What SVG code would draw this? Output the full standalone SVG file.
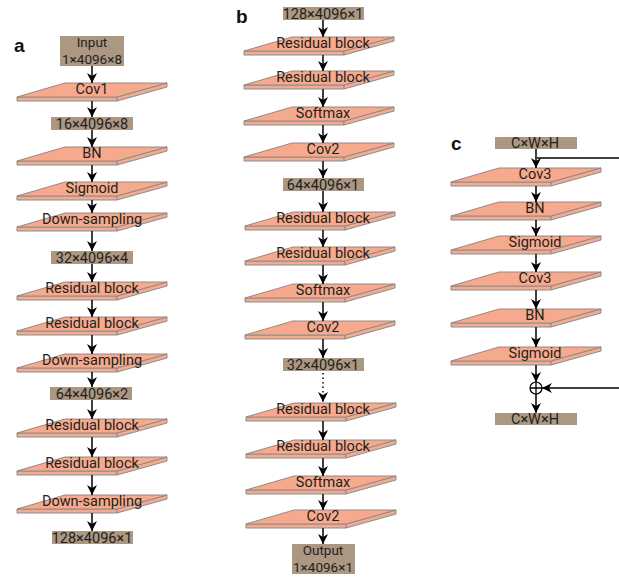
<svg xmlns="http://www.w3.org/2000/svg" xmlns:xlink="http://www.w3.org/1999/xlink" width="619" height="579" viewBox="0 0 619 579">
  <style>
    .face { fill: #F6A98C; stroke: #8C8C8C; stroke-width: 1; stroke-linejoin: round; }
    .box { fill: #AC9782; }
    .lbl { font-family: Roboto, "Liberation Sans", Arial, sans-serif; font-size: 14.5px; fill: #231F20; text-anchor: middle; }
    .two { font-size: 13.5px; }
    .panel { font-family: "Liberation Sans", Arial, sans-serif; font-size: 19px; font-weight: bold; fill: #111; }
    .arrow { stroke: #000; stroke-width: 1.5; fill: none; marker-end: url(#head); }
    .dotted { stroke: #000; stroke-width: 1.5; fill: none; stroke-dasharray: 1.5 3; marker-end: url(#head); }
    .line { stroke: #000; stroke-width: 1.3; fill: none; }
  </style>
  <defs>
    <marker id="head" markerUnits="userSpaceOnUse" markerWidth="10" markerHeight="10" viewBox="0 0 10 10" refX="10" refY="5" orient="auto">
      <path d="M0,0 L10,5 L0,10 L3,5 Z" fill="#000"/>
    </marker>
    <!-- thin slab: top face plus front and side edges -->
    <g id="slab">
      <path class="face" d="M0,14 H100 V18 H0 Z"/>
      <path class="face" d="M100,14 L150,0 V4 L100,18 Z"/>
      <path class="face" d="M0,14 L100,14 L150,0 L48,0 Z"/>
    </g>
  </defs>

  <!-- panel letters -->
  <text class="panel" x="14" y="52">a</text>
  <text class="panel" x="236" y="23">b</text>
  <text class="panel" x="451" y="150">c</text>

  <!-- ===== column a ===== -->
  <g id="a-input"><rect class="box" x="60" y="36" width="64" height="30"/><text class="lbl two" x="92" y="47">Input</text><text class="lbl two" x="92" y="64">1×4096×8</text></g>
  <g id="a-cov1"><use xlink:href="#slab" x="17" y="83"/><text class="lbl" x="92" y="94">Cov1</text></g>
  <g id="a-t1"><rect class="box" x="51" y="117" width="82" height="13"/><text class="lbl" x="92" y="129">16×4096×8</text></g>
  <g id="a-bn"><use xlink:href="#slab" x="17" y="147"/><text class="lbl" x="92" y="158">BN</text></g>
  <g id="a-sig"><use xlink:href="#slab" x="17" y="182"/><text class="lbl" x="92" y="193">Sigmoid</text></g>
  <g id="a-ds1"><use xlink:href="#slab" x="17" y="213"/><text class="lbl" x="92" y="224">Down-sampling</text></g>
  <g id="a-t2"><rect class="box" x="51" y="251" width="82" height="13"/><text class="lbl" x="92" y="263">32×4096×4</text></g>
  <g id="a-res1"><use xlink:href="#slab" x="17" y="282"/><text class="lbl" x="92" y="293">Residual block</text></g>
  <g id="a-res2"><use xlink:href="#slab" x="17" y="317"/><text class="lbl" x="92" y="328">Residual block</text></g>
  <g id="a-ds2"><use xlink:href="#slab" x="17" y="354"/><text class="lbl" x="92" y="365">Down-sampling</text></g>
  <g id="a-t3"><rect class="box" x="50" y="387" width="82" height="13"/><text class="lbl" x="92" y="399">64×4096×2</text></g>
  <g id="a-res3"><use xlink:href="#slab" x="17" y="419"/><text class="lbl" x="92" y="430">Residual block</text></g>
  <g id="a-res4"><use xlink:href="#slab" x="17" y="457"/><text class="lbl" x="92" y="468">Residual block</text></g>
  <g id="a-ds3"><use xlink:href="#slab" x="17" y="495"/><text class="lbl" x="92" y="506">Down-sampling</text></g>
  <g id="a-out"><rect class="box" x="52" y="531" width="81" height="13"/><text class="lbl" x="92" y="543">128×4096×1</text></g>

  <!-- ===== column b ===== -->
  <g id="b-in"><rect class="box" x="283" y="7" width="81" height="13"/><text class="lbl" x="323" y="19">128×4096×1</text></g>
  <g id="b-res1"><use xlink:href="#slab" x="244" y="37"/><text class="lbl" x="323" y="48">Residual block</text></g>
  <g id="b-res2"><use xlink:href="#slab" x="244" y="71"/><text class="lbl" x="323" y="82">Residual block</text></g>
  <g id="b-soft1"><use xlink:href="#slab" x="244" y="107"/><text class="lbl" x="323" y="118">Softmax</text></g>
  <g id="b-cov1"><use xlink:href="#slab" x="244" y="143"/><text class="lbl" x="323" y="154">Cov2</text></g>
  <g id="b-t1"><rect class="box" x="283" y="178" width="81" height="13"/><text class="lbl" x="323" y="190">64×4096×1</text></g>
  <g id="b-res3"><use xlink:href="#slab" x="245" y="212"/><text class="lbl" x="323" y="223">Residual block</text></g>
  <g id="b-res4"><use xlink:href="#slab" x="245" y="247"/><text class="lbl" x="323" y="258">Residual block</text></g>
  <g id="b-soft2"><use xlink:href="#slab" x="245" y="284"/><text class="lbl" x="323" y="295">Softmax</text></g>
  <g id="b-cov2"><use xlink:href="#slab" x="245" y="321"/><text class="lbl" x="323" y="332">Cov2</text></g>
  <g id="b-t2"><rect class="box" x="283" y="358" width="81" height="13"/><text class="lbl" x="323" y="370">32×4096×1</text></g>
  <g id="b-res5"><use xlink:href="#slab" x="246" y="403"/><text class="lbl" x="323" y="414">Residual block</text></g>
  <g id="b-res6"><use xlink:href="#slab" x="246" y="440"/><text class="lbl" x="323" y="451">Residual block</text></g>
  <g id="b-soft3"><use xlink:href="#slab" x="246" y="476"/><text class="lbl" x="323" y="487">Softmax</text></g>
  <g id="b-cov3"><use xlink:href="#slab" x="246" y="510"/><text class="lbl" x="323" y="521">Cov2</text></g>
  <g id="b-out"><rect class="box" x="292" y="544" width="63" height="30"/><text class="lbl two" x="323" y="555">Output</text><text class="lbl two" x="323" y="572">1×4096×1</text></g>

  <!-- ===== column c ===== -->
  <g id="c-in"><rect class="box" x="495" y="137" width="82" height="12"/><text class="lbl" x="535" y="148">C×W×H</text></g>
  <g id="c-cov1"><use xlink:href="#slab" x="451" y="168"/><text class="lbl" x="535" y="179">Cov3</text></g>
  <g id="c-bn1"><use xlink:href="#slab" x="451" y="202"/><text class="lbl" x="535" y="213">BN</text></g>
  <g id="c-sig1"><use xlink:href="#slab" x="451" y="236"/><text class="lbl" x="535" y="247">Sigmoid</text></g>
  <g id="c-cov2"><use xlink:href="#slab" x="451" y="272"/><text class="lbl" x="535" y="283">Cov3</text></g>
  <g id="c-bn2"><use xlink:href="#slab" x="451" y="309"/><text class="lbl" x="535" y="320">BN</text></g>
  <g id="c-sig2"><use xlink:href="#slab" x="451" y="347"/><text class="lbl" x="535" y="358">Sigmoid</text></g>
  <g id="c-add"><circle cx="536" cy="388" r="6" fill="#fff" stroke="#000" stroke-width="1.2"/><path class="line" d="M530,388 H542 M536,382 V394"/></g>
  <g id="c-out"><rect class="box" x="495" y="413" width="82" height="12"/><text class="lbl" x="535" y="424">C×W×H</text></g>

  <!-- connectors -->
  <g id="connectors">
    <path class="arrow" d="M92,66 V83"/>
    <path class="arrow" d="M92,101 V117"/>
    <path class="arrow" d="M92,130 V147"/>
    <path class="arrow" d="M92,165 V182"/>
    <path class="arrow" d="M92,200 V213"/>
    <path class="arrow" d="M92,231 V251"/>
    <path class="arrow" d="M92,264 V282"/>
    <path class="arrow" d="M92,300 V317"/>
    <path class="arrow" d="M92,335 V354"/>
    <path class="arrow" d="M92,372 V387"/>
    <path class="arrow" d="M92,400 V419"/>
    <path class="arrow" d="M92,437 V457"/>
    <path class="arrow" d="M92,475 V495"/>
    <path class="arrow" d="M92,513 V531"/>

    <path class="arrow" d="M323,20 V37"/>
    <path class="arrow" d="M323,55 V71"/>
    <path class="arrow" d="M323,89 V107"/>
    <path class="arrow" d="M323,125 V143"/>
    <path class="arrow" d="M323,161 V178"/>
    <path class="arrow" d="M323,191 V212"/>
    <path class="arrow" d="M323,230 V247"/>
    <path class="arrow" d="M323,265 V284"/>
    <path class="arrow" d="M323,302 V321"/>
    <path class="arrow" d="M323,339 V358"/>
    <path class="dotted" d="M323,373 V402"/>
    <path class="arrow" d="M323,421 V440"/>
    <path class="arrow" d="M323,458 V476"/>
    <path class="arrow" d="M323,494 V510"/>
    <path class="arrow" d="M323,528 V544"/>

    <path class="arrow" d="M536,149 V168"/>
    <path class="arrow" d="M536,186 V202"/>
    <path class="arrow" d="M536,220 V236"/>
    <path class="arrow" d="M536,254 V272"/>
    <path class="arrow" d="M536,290 V309"/>
    <path class="arrow" d="M536,327 V347"/>
    <path class="arrow" d="M536,365 V382"/>
    <path class="arrow" d="M536,394 V413"/>
    <!-- skip path -->
    <path class="line" d="M537,158 H619"/>
    <path class="arrow" d="M619,388 H542"/>
  </g>
</svg>
